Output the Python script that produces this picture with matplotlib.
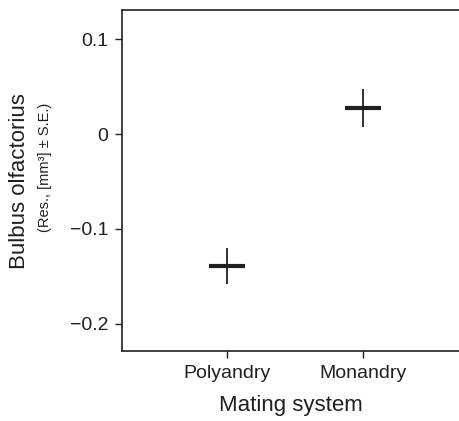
import numpy as np
import matplotlib.pyplot as plt

plt.rcParams['font.family'] = ['Liberation Sans', 'DejaVu Sans']

# data
groups = ['Polyandry', 'Monandry']
means = [-0.139, 0.028]
se = [0.019, 0.020]
yticks = [-0.2, -0.1, 0, 0.1]
yticklabels = ['\u22120.2', '\u22120.1', '0', '0.1']

ink = '#231f20'

fig = plt.figure(figsize=(4.59, 4.21), dpi=100)
ax = fig.add_axes([122 / 459, 1 - 350.7 / 421, 1 - 122 / 459, (350.7 - 9.5) / 421])

x = np.arange(1, len(groups) + 1)
ax.errorbar(x, means, yerr=se, fmt='none', ecolor=ink, elinewidth=1.3, capsize=0)
ax.plot(x, means, linestyle='none', marker='_', markersize=26,
        markeredgewidth=3.0, color=ink)

ax.set_xlim(0.2335, 2.70)
ax.set_ylim(-0.2285, 0.1315)
ax.set_xticks(x)
ax.set_xticklabels(groups)
ax.set_yticks(yticks)
ax.set_yticklabels(yticklabels)

for s in ['left', 'bottom', 'top']:
    ax.spines[s].set_linewidth(1.2)
    ax.spines[s].set_color(ink)
ax.spines['right'].set_visible(False)
ax.tick_params(direction='out', length=5, width=1, color=ink,
               labelsize=14, labelcolor=ink, pad=5)

ax.set_xlabel('Mating system', fontsize=16, color=ink, labelpad=10)
fig.text(20 / 459, 1 - 181.5 / 421, 'Bulbus olfactorius', rotation=90,
         ha='center', va='center', fontsize=16, color=ink)
fig.text(45 / 459, 1 - 167 / 421, '(Res., [mm\u00b3] \u00b1 S.E.)', rotation=90,
         ha='center', va='center', fontsize=10.5, color=ink)

fig.savefig('out.png', dpi=100)
